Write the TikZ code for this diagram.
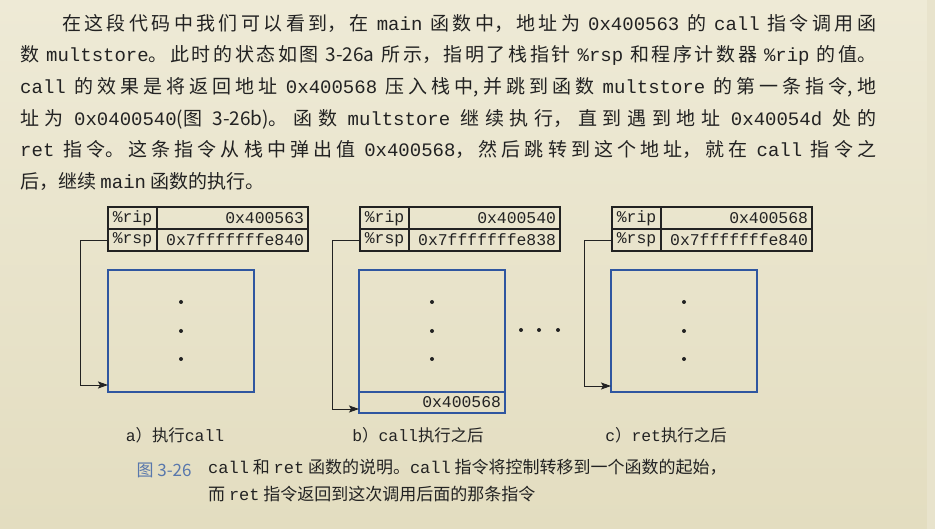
\documentclass[tikz,border=0pt]{standalone}
\usepackage{fontspec}
\setmainfont{Noto Sans CJK SC}
\setmonofont{Liberation Mono}
\usepackage{xcolor}
\usetikzlibrary{arrows.meta,positioning}
\XeTeXlinebreaklocale "zh"
\XeTeXlinebreakskip=0pt plus 2pt
\definecolor{paper}{HTML}{EEEAD6}
\definecolor{paperlow}{HTML}{E3DDC0}
\definecolor{paperedge}{HTML}{E8E3CC}
\definecolor{ink}{HTML}{222222}
\definecolor{stackblue}{HTML}{2F56A0}
\definecolor{figblue}{HTML}{5877AC}
\newcommand{\code}[1]{{\ttfamily #1}}
\newcommand{\regfont}{\ttfamily\fontsize{16.4}{18}\selectfont}
\tikzset{
  reglabel/.style={draw=ink, line width=1.3pt, outer sep=0pt, inner sep=0pt, minimum width=49pt, minimum height=22pt, font=\regfont, text=ink},
  regvalue/.style={draw=ink, line width=1.3pt, outer sep=0pt, inner xsep=4pt, inner ysep=0pt, text width=143pt, align=right, minimum height=22pt, font=\regfont, text=ink},
  stackbox/.style={draw=stackblue, line width=1.3pt, outer sep=0pt, minimum width=146pt, minimum height=122pt},
  stackcell/.style={draw=stackblue, line width=1.3pt, outer sep=0pt, inner xsep=4pt, inner ysep=0pt, text width=138pt, align=right, minimum height=21pt, font=\regfont, text=ink},
  ptr/.style={-{Stealth[length=10pt, width=7pt, inset=2pt]}, draw=ink, line width=0.9pt},
  panelcap/.style={font=\fontsize{16.4}{18}\selectfont, text=ink},
  para/.style={text width=856pt, align=justify, inner sep=0pt, font=\fontsize{19}{31.6}\selectfont, text=ink},
  captext/.style={align=left, inner sep=0pt, font=\fontsize{17}{27}\selectfont, text=ink}
}
\begin{document}
\begin{tikzpicture}[x=1pt, y=-1pt]
  \fill[top color=paper, bottom color=paperlow] (0,0) rectangle (935,529);
  \fill[paperedge] (927,0) rectangle (935,529);
  \useasboundingbox (0,0) rectangle (935,529);

  % body text above the figure
  \node[para, anchor=north west] (body) at (20,14) {\hspace*{42pt}在这段代码中我们可以看到，在 \code{main} 函数中，地址为 \code{0x400563} 的 \code{call} 指令调用函\linebreak
    数 \code{multstore}。此时的状态如图 3-26a 所示，指明了栈指针 \code{\%rsp} 和程序计数器 \code{\%rip} 的值。\linebreak
    \code{call} 的效果是将返回地址 \code{0x400568} 压入栈中,并跳到函数 \code{multstore} 的第一条指令,地\linebreak
    址为 \code{0x0400540}(图 3-26b)。函数 \code{multstore} 继续执行，直到遇到地址 \code{0x40054d} 处的\linebreak
    \code{ret} 指令。这条指令从栈中弹出值 \code{0x400568}，然后跳转到这个地址，就在 \code{call} 指令之\linebreak
    后，继续 \code{main} 函数的执行。};

  % a) executing call
  \node[reglabel, anchor=north west] (ripa) at (108,207) {\%rip};
  \node[regvalue, right=0pt of ripa] (ripva) {0x400563};
  \node[reglabel, below=0pt of ripa] (rspa) {\%rsp};
  \node[regvalue, right=0pt of rspa] (rspva) {0x7fffffffe840};
  \node[stackbox, anchor=north west] (stacka) at (108,270) {};
  \fill[ink] ([yshift=29pt]stacka.center) circle (2pt);
  \fill[ink] (stacka.center) circle (2pt);
  \fill[ink] ([yshift=-28pt]stacka.center) circle (2pt);
  \draw[ptr] (rspa.west) -- ++(-28,0) |- ([yshift=7pt]stacka.south west);
  \node[panelcap] (capa) at (175,435) {\code{a}）执行\code{call}};

  % b) after call
  \node[reglabel, anchor=north west] (ripb) at (360,207) {\%rip};
  \node[regvalue, right=0pt of ripb] (ripvb) {0x400540};
  \node[reglabel, below=0pt of ripb] (rspb) {\%rsp};
  \node[regvalue, right=0pt of rspb] (rspvb) {0x7fffffffe838};
  \node[stackbox, anchor=north west] (stackb) at (359,270) {};
  \node[stackcell, below=0pt of stackb] (retb) {0x400568};
  \fill[ink] ([yshift=29pt]stackb.center) circle (2pt);
  \fill[ink] (stackb.center) circle (2pt);
  \fill[ink] ([yshift=-28pt]stackb.center) circle (2pt);
  \draw[ptr] (rspb.west) -- ++(-28,0) |- ([yshift=4pt]retb.south west);
  \node[panelcap] (capb) at (418,435) {\code{b}）\code{call}执行之后};

  % dots between b and c
  \fill[ink] (521,330) circle (2pt);
  \fill[ink] (539,330) circle (2pt);
  \fill[ink] (558,330) circle (2pt);

  % c) after ret
  \node[reglabel, anchor=north west] (ripc) at (612,207) {\%rip};
  \node[regvalue, right=0pt of ripc] (ripvc) {0x400568};
  \node[reglabel, below=0pt of ripc] (rspc) {\%rsp};
  \node[regvalue, right=0pt of rspc] (rspvc) {0x7fffffffe840};
  \node[stackbox, anchor=north west] (stackc) at (611,270) {};
  \fill[ink] ([yshift=29pt]stackc.center) circle (2pt);
  \fill[ink] (stackc.center) circle (2pt);
  \fill[ink] ([yshift=-28pt]stackc.center) circle (2pt);
  \draw[ptr] (rspc.west) -- ++(-28,0) |- ([yshift=6pt]stackc.south west);
  \node[panelcap] (capc) at (666,435) {\code{c}）\code{ret}执行之后};

  % figure caption
  \node[anchor=west, text=figblue, font=\fontsize{17}{27}\selectfont] (fignum) at (133,470) {图 3-26};
  \node[captext, anchor=north west] (figcap) at (208,459) {\code{call} 和 \code{ret} 函数的说明。\code{call} 指令将控制转移到一个函数的起始，\\
    而 \code{ret} 指令返回到这次调用后面的那条指令};
\end{tikzpicture}
\end{document}
